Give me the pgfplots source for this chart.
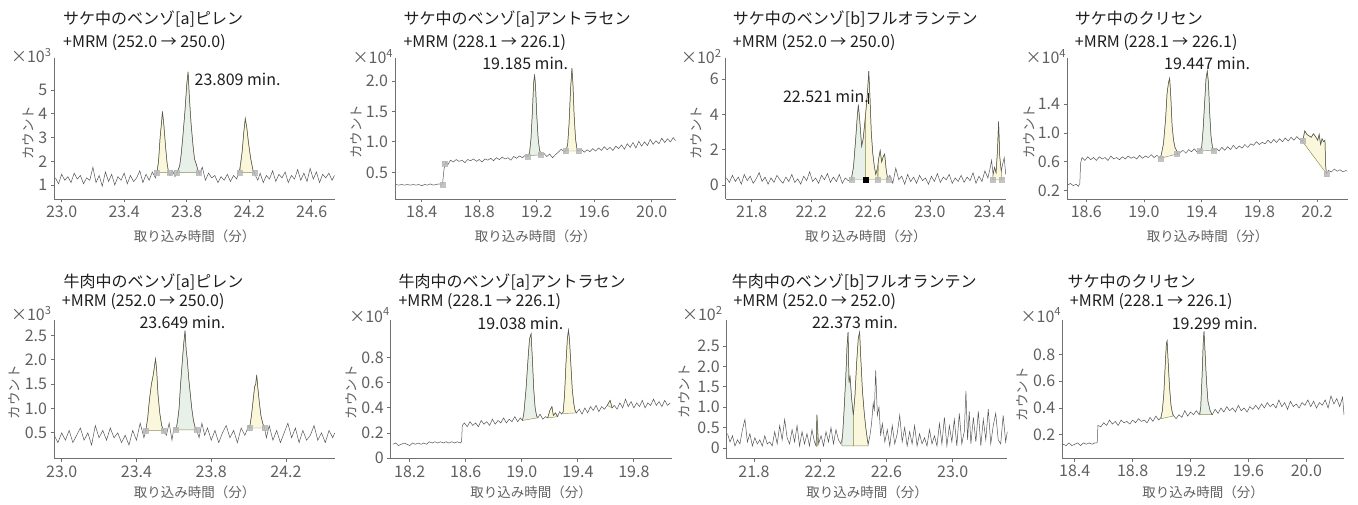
\documentclass[border=0pt]{standalone}
\usepackage{fontspec}
\setmainfont{Noto Sans CJK JP}
\usepackage{pgfplots}
\pgfplotsset{compat=1.18}
\definecolor{trace}{HTML}{555555}
\definecolor{pkY}{HTML}{FAF7DC}
\definecolor{pkG}{HTML}{E8F0EA}
\definecolor{pkLine}{HTML}{8E8E4C}
\definecolor{mk}{HTML}{B8B8B8}
\definecolor{axgray}{HTML}{707070}
\definecolor{labgray}{HTML}{606060}
\definecolor{ttl}{HTML}{1E1E1E}
\pgfplotsset{
 chrom/.style={
  scale only axis, anchor=south west,
  axis lines*=left,
  every outer x axis line/.append style={-}, every outer y axis line/.append style={-},
  every inner x axis line/.append style={-}, every inner y axis line/.append style={-},
  axis line style={-, draw=axgray, line width=0.9pt},
  tick align=outside, major tick length=3.5pt,
  tick style={draw=axgray, line width=0.8pt},
  tick label style={font=\fontsize{16}{16}\selectfont, text=labgray},
  /pgf/number format/assume math mode=true,
  clip mode=individual, scaled ticks=false, minor tick num=0,
 },
 trace/.style={color=trace, line width=0.5pt, mark=none},
 pkY/.style={fill=pkY, draw=pkLine, line width=0.45pt, mark=none},
 pkG/.style={fill=pkG, draw=pkLine, line width=0.45pt, mark=none},
 mks/.style={only marks, color=mk, mark=square*, mark size=2.5pt, mark options={fill=mk, draw=mk, fill opacity=0.85, draw opacity=0.85}},
}
\tikzset{
 pklab/.style={font=\fontsize{16}{16}\selectfont, text=ttl, inner sep=0pt},
 ttl/.style={font=\fontsize{16}{16}\selectfont, text=ttl, anchor=base west, inner sep=0pt},
 xl/.style={font=\fontsize{13.5}{14}\selectfont, text=labgray, inner sep=0pt},
 yl/.style={font=\fontsize{13.5}{14}\selectfont, text=labgray, inner sep=0pt, rotate=90},
 pw/.style={font=\fontsize{16}{16}\selectfont, text=labgray, anchor=base east, inner sep=0pt},
}
\begin{document}
\begin{tikzpicture}
\useasboundingbox (0,0) rectangle (1358pt,504pt);

% ---------------- Panel 1 ----------------
\begin{axis}[chrom, at={(54.3pt,305pt)}, width=280.7pt, height=141pt,
 xmin=22.953, xmax=24.749, ymin=0.41, ymax=6.35,
 xtick={23.0,23.4,23.8,24.2,24.6}, xticklabels={23.0,23.4,23.8,24.2,24.6},
 ytick={1,2,3,4,5}, yticklabels={1,2,3,4,5}]
\addplot[pkY] coordinates {(23.61,1.52) (23.62,2.00) (23.63,3.00) (23.64,3.70) (23.645,4.10) (23.655,3.45) (23.665,2.60) (23.675,1.90) (23.685,1.52) (23.61,1.52)};
\addplot[pkG] coordinates {(23.735,1.52) (23.74,1.55) (23.755,1.80) (23.765,2.30) (23.775,3.00) (23.79,4.20) (23.80,5.20) (23.809,5.77) (23.818,4.60) (23.828,3.60) (23.84,2.70) (23.85,2.10) (23.865,1.80) (23.875,1.52) (23.735,1.52)};
\addplot[pkY] coordinates {(24.14,1.52) (24.155,2.40) (24.165,3.20) (24.175,3.80) (24.185,3.40) (24.195,2.80) (24.21,2.10) (24.225,1.60) (24.235,1.52) (24.14,1.52)};
\addplot[trace] coordinates {
(22.96,1.30) (22.98,1.05) (23.00,1.45) (23.02,1.20) (23.04,1.35) (23.06,1.10) (23.08,1.50) (23.10,1.25) (23.12,1.40) (23.14,1.05)
(23.16,1.30) (23.18,1.20) (23.20,1.75) (23.22,1.10) (23.24,1.40) (23.26,0.95) (23.28,1.55) (23.30,1.15) (23.32,1.45) (23.34,1.00)
(23.36,1.35) (23.38,1.20) (23.40,1.50) (23.42,1.05) (23.44,1.40) (23.46,1.15) (23.48,1.30) (23.50,1.60) (23.52,1.10) (23.54,1.45)
(23.56,1.20) (23.58,1.55) (23.60,1.30) (23.61,1.55) (23.62,2.00) (23.63,3.00) (23.64,3.70) (23.645,4.10) (23.655,3.45) (23.665,2.60)
(23.675,1.90) (23.685,1.50) (23.695,1.40) (23.71,1.60) (23.725,1.35) (23.74,1.55) (23.755,1.80) (23.765,2.30) (23.775,3.00) (23.79,4.20)
(23.80,5.20) (23.809,5.77) (23.818,4.60) (23.828,3.60) (23.84,2.70) (23.85,2.10) (23.865,1.80) (23.88,1.45) (23.90,1.75) (23.92,1.20)
(23.94,1.50) (23.96,1.30) (23.98,1.40) (24.00,1.10) (24.02,1.35) (24.04,1.20) (24.06,1.45) (24.08,1.15) (24.10,1.40) (24.12,1.25)
(24.14,1.70) (24.155,2.40) (24.165,3.20) (24.175,3.80) (24.185,3.40) (24.195,2.80) (24.21,2.10) (24.225,1.60) (24.24,1.40) (24.255,1.20)
(24.27,1.50) (24.29,1.10) (24.31,1.40) (24.33,1.25) (24.35,1.60) (24.37,1.15) (24.39,1.45) (24.41,1.30) (24.43,1.55) (24.45,1.10)
(24.47,1.40) (24.49,1.25) (24.51,1.65) (24.53,1.20) (24.55,1.50) (24.57,1.15) (24.59,1.70) (24.61,1.25) (24.63,1.55) (24.65,1.10)
(24.67,1.45) (24.69,1.30) (24.71,1.50) (24.73,1.20) (24.745,1.40)};
\addplot[mks] coordinates {(23.61,1.52) (23.69,1.52) (23.735,1.52) (23.875,1.52) (24.14,1.52) (24.235,1.52)};
\node[pklab, anchor=west] at (axis cs:23.85,5.45) {23.809 min.};
\end{axis}

% ---------------- Panel 2 ----------------
\begin{axis}[chrom, at={(395pt,305pt)}, width=281pt, height=141pt,
 xmin=18.214, xmax=20.169, ymin=0.062, ymax=2.378,
 xtick={18.4,18.8,19.2,19.6,20.0}, xticklabels={18.4,18.8,19.2,19.6,20.0},
 ytick={0.5,1.0,1.5,2.0}, yticklabels={0.5,1.0,1.5,2.0}]
\addplot[pkG] coordinates {(19.14,0.77) (19.15,0.82) (19.16,1.05) (19.17,1.50) (19.178,1.95) (19.185,2.11) (19.192,1.90) (19.20,1.45) (19.21,1.05) (19.22,0.86) (19.23,0.79) (19.14,0.77)};
\addplot[pkY] coordinates {(19.40,0.85) (19.415,0.95) (19.425,1.30) (19.435,1.85) (19.445,2.21) (19.452,1.95) (19.46,1.45) (19.47,1.05) (19.48,0.88) (19.49,0.85) (19.40,0.85)};
\addplot[trace] coordinates {
(18.22,0.30) (18.24,0.29) (18.26,0.30) (18.28,0.29) (18.30,0.30) (18.32,0.29) (18.34,0.30) (18.36,0.29) (18.38,0.30) (18.40,0.28)
(18.42,0.30) (18.44,0.29) (18.46,0.31) (18.48,0.29) (18.50,0.30) (18.52,0.31) (18.54,0.30) (18.545,0.32) (18.555,0.55) (18.565,0.66)
(18.58,0.62) (18.60,0.70) (18.62,0.67) (18.64,0.71) (18.66,0.68) (18.68,0.70) (18.70,0.66) (18.72,0.71) (18.74,0.69) (18.76,0.72)
(18.78,0.68) (18.80,0.71) (18.82,0.67) (18.84,0.72) (18.86,0.70) (18.88,0.73) (18.90,0.69) (18.92,0.74) (18.94,0.71) (18.96,0.75)
(18.98,0.72) (19.00,0.74) (19.02,0.70) (19.04,0.76) (19.06,0.73) (19.08,0.77) (19.10,0.74) (19.12,0.78) (19.135,0.76) (19.15,0.82)
(19.16,1.05) (19.17,1.50) (19.178,1.95) (19.185,2.11) (19.192,1.90) (19.20,1.45) (19.21,1.05) (19.22,0.86) (19.235,0.79) (19.25,0.81)
(19.27,0.76) (19.29,0.80) (19.31,0.74) (19.33,0.79) (19.35,0.83) (19.37,0.88) (19.39,0.84) (19.405,0.86) (19.415,0.95) (19.425,1.30)
(19.435,1.85) (19.445,2.21) (19.452,1.95) (19.46,1.45) (19.47,1.05) (19.48,0.88) (19.495,0.85) (19.51,0.88) (19.53,0.83) (19.55,0.87)
(19.57,0.84) (19.59,0.89) (19.61,0.85) (19.63,0.90) (19.65,0.86) (19.67,0.92) (19.69,0.87) (19.71,0.91) (19.73,0.86) (19.75,0.93)
(19.77,0.89) (19.79,0.95) (19.81,0.88) (19.83,0.97) (19.85,0.91) (19.87,0.99) (19.89,0.90) (19.91,1.01) (19.93,0.93) (19.95,1.00)
(19.97,0.94) (19.99,1.04) (20.01,0.96) (20.03,1.02) (20.05,0.97) (20.07,1.06) (20.09,0.99) (20.11,1.05) (20.13,1.00) (20.15,1.07) (20.165,1.02)};
\addplot[mks] coordinates {(18.545,0.30) (18.56,0.65) (19.135,0.76) (19.225,0.79) (19.40,0.85) (19.49,0.85)};
\node[pklab] at (axis cs:19.12,2.29) {19.185 min.};
\end{axis}

% ---------------- Panel 3 ----------------
\begin{axis}[chrom, at={(725.7pt,305pt)}, width=280.3pt, height=141pt,
 xmin=21.625, xmax=23.512, ymin=-0.79, ymax=7.19,
 xtick={21.8,22.2,22.6,23.0,23.4}, xticklabels={21.8,22.2,22.6,23.0,23.4},
 ytick={0,2,4,6}, yticklabels={0,2,4,6}]
\addplot[pkG] coordinates {(22.47,0.30) (22.485,1.00) (22.50,2.60) (22.51,3.80) (22.518,4.55) (22.528,3.60) (22.54,2.20) (22.55,2.60) (22.56,3.40) (22.565,3.85) (22.565,0.30) (22.47,0.30)};
\addplot[pkY] coordinates {(22.565,0.30) (22.565,3.85) (22.57,4.30) (22.58,5.30) (22.588,6.45) (22.596,5.00) (22.605,3.00) (22.615,1.80) (22.625,1.10) (22.635,0.60) (22.645,0.90) (22.65,0.30) (22.565,0.30)};
\addplot[pkY] coordinates {(22.65,0.30) (22.655,1.50) (22.665,1.95) (22.675,1.30) (22.685,1.60) (22.695,1.75) (22.705,0.90) (22.715,0.35) (22.72,0.30) (22.65,0.30)};
\addplot[pkY] coordinates {(23.42,0.30) (23.425,0.60) (23.435,1.00) (23.445,0.70) (23.455,2.00) (23.462,3.60) (23.47,1.60) (23.48,0.80) (23.485,0.30) (23.42,0.30)};
\addplot[trace] coordinates {
(21.63,0.40) (21.65,0.15) (21.67,0.55) (21.69,0.20) (21.71,0.45) (21.73,0.05) (21.75,0.60) (21.77,0.25) (21.79,0.50) (21.81,0.10)
(21.83,0.35) (21.85,0.70) (21.87,0.20) (21.89,0.45) (21.91,0.05) (21.93,0.40) (21.95,0.15) (21.97,0.55) (21.99,0.30) (22.01,0.10)
(22.03,0.45) (22.05,0.20) (22.07,0.60) (22.09,0.15) (22.11,0.35) (22.13,0.05) (22.15,0.50) (22.17,0.25) (22.19,0.75) (22.21,0.20)
(22.23,0.40) (22.25,0.10) (22.27,0.55) (22.29,0.30) (22.31,0.65) (22.33,0.15) (22.35,0.45) (22.37,0.20) (22.39,0.60) (22.41,0.10)
(22.43,0.40) (22.45,0.25) (22.47,0.30) (22.485,1.00) (22.50,2.60) (22.51,3.80) (22.518,4.55) (22.528,3.60) (22.54,2.20) (22.55,2.60)
(22.56,3.40) (22.57,4.30) (22.58,5.30) (22.588,6.45) (22.596,5.00) (22.605,3.00) (22.615,1.80) (22.625,1.10) (22.635,0.60) (22.645,0.90)
(22.655,1.50) (22.665,1.95) (22.675,1.30) (22.685,1.60) (22.695,1.75) (22.705,0.90) (22.715,0.35) (22.73,0.55) (22.75,0.10) (22.77,0.95)
(22.79,0.30) (22.81,0.50) (22.83,0.05) (22.85,0.60) (22.87,0.20) (22.89,0.45) (22.91,0.10) (22.93,0.55) (22.95,0.25) (22.97,0.40)
(22.99,0.05) (23.01,0.50) (23.03,0.20) (23.05,0.65) (23.07,0.15) (23.09,0.45) (23.11,0.30) (23.13,0.60) (23.15,0.10) (23.17,0.40)
(23.19,0.20) (23.21,0.55) (23.23,0.15) (23.25,0.45) (23.27,0.25) (23.29,0.70) (23.31,0.10) (23.33,0.50) (23.35,0.20) (23.37,0.80)
(23.39,0.40) (23.405,0.95) (23.415,1.40) (23.425,0.60) (23.435,1.00) (23.445,0.70) (23.455,2.00) (23.462,3.60) (23.47,1.60) (23.48,0.80)
(23.49,1.20) (23.50,1.55) (23.51,0.60)};
\addplot[mks] coordinates {(22.47,0.30) (22.65,0.30) (22.72,0.30) (23.42,0.30) (23.485,0.30)};
\addplot[only marks, color=black, mark=square*, mark size=2.4pt, mark options={fill=black, draw=black}] coordinates {(22.565,0.30)};
\draw[color=ttl, line width=0.6pt] (axis cs:22.588,4.6) -- (axis cs:22.588,5.2);
\node[pklab] at (axis cs:22.30,5.0) {22.521 min.};
\end{axis}

% ---------------- Panel 4 ----------------
\begin{axis}[chrom, at={(1067pt,305pt)}, width=281pt, height=141pt,
 xmin=18.466, xmax=20.415, ymin=0.085, ymax=2.04,
 xtick={18.6,19.0,19.4,19.8,20.2}, xticklabels={18.6,19.0,19.4,19.8,20.2},
 ytick={0.2,0.6,1.0,1.4}, yticklabels={0.2,0.6,1.0,1.4}]
\addplot[pkY] coordinates {(19.115,0.65) (19.12,0.70) (19.135,0.85) (19.15,1.20) (19.16,1.55) (19.17,1.70) (19.178,1.76) (19.186,1.50) (19.195,1.10) (19.205,0.90) (19.215,0.80) (19.225,0.76) (19.23,0.71) (19.115,0.65)};
\addplot[pkG] coordinates {(19.385,0.75) (19.40,0.80) (19.41,1.05) (19.42,1.40) (19.43,1.75) (19.439,1.86) (19.447,1.70) (19.455,1.30) (19.465,0.95) (19.475,0.80) (19.48,0.76) (19.385,0.75)};
\addplot[pkY] coordinates {(20.10,0.88) (20.115,1.03) (20.13,0.98) (20.145,0.96) (20.16,0.94) (20.175,0.99) (20.19,0.95) (20.205,0.90) (20.215,0.98) (20.225,0.84) (20.235,0.92) (20.245,0.88) (20.255,0.90) (20.26,0.55) (20.265,0.44) (20.10,0.88)};
\addplot[trace] coordinates {
(18.47,0.28) (18.49,0.30) (18.51,0.27) (18.53,0.29) (18.545,0.26) (18.555,0.30) (18.56,0.58) (18.57,0.66) (18.59,0.62) (18.61,0.67)
(18.63,0.63) (18.65,0.66) (18.67,0.62) (18.69,0.67) (18.71,0.64) (18.73,0.66) (18.75,0.62) (18.77,0.68) (18.79,0.64) (18.81,0.66)
(18.83,0.63) (18.85,0.67) (18.87,0.64) (18.89,0.68) (18.91,0.65) (18.93,0.67) (18.95,0.64) (18.97,0.69) (18.99,0.65) (19.01,0.68)
(19.03,0.66) (19.05,0.70) (19.07,0.66) (19.09,0.69) (19.11,0.65) (19.12,0.70) (19.135,0.85) (19.15,1.20) (19.16,1.55) (19.17,1.70)
(19.178,1.76) (19.186,1.50) (19.195,1.10) (19.205,0.90) (19.215,0.80) (19.225,0.76) (19.235,0.70) (19.25,0.73) (19.27,0.76) (19.29,0.72)
(19.31,0.77) (19.33,0.74) (19.35,0.78) (19.37,0.73) (19.385,0.75) (19.40,0.80) (19.41,1.05) (19.42,1.40) (19.43,1.75) (19.439,1.86)
(19.447,1.70) (19.455,1.30) (19.465,0.95) (19.475,0.80) (19.485,0.76) (19.50,0.79) (19.52,0.75) (19.54,0.80) (19.56,0.76) (19.58,0.81)
(19.60,0.77) (19.62,0.83) (19.64,0.78) (19.66,0.82) (19.68,0.79) (19.70,0.84) (19.72,0.80) (19.74,0.85) (19.76,0.83) (19.78,0.88)
(19.80,0.84) (19.82,0.87) (19.84,0.85) (19.86,0.90) (19.88,0.86) (19.90,0.91) (19.92,0.87) (19.94,0.92) (19.96,0.88) (19.98,0.93)
(20.00,0.89) (20.02,0.94) (20.04,0.90) (20.06,0.95) (20.08,0.91) (20.10,0.88) (20.115,1.03) (20.13,0.98) (20.145,0.96) (20.16,0.94)
(20.175,0.99) (20.19,0.95) (20.205,0.90) (20.215,0.98) (20.225,0.84) (20.235,0.92) (20.245,0.88) (20.255,0.90) (20.26,0.55) (20.265,0.44)
(20.28,0.48) (20.30,0.46) (20.32,0.50) (20.34,0.47) (20.36,0.49) (20.38,0.46) (20.40,0.48) (20.41,0.47)};
\addplot[mks] coordinates {(19.115,0.64) (19.23,0.71) (19.385,0.75) (19.48,0.76) (20.10,0.90) (20.265,0.43)};
\node[pklab] at (axis cs:19.438,1.97) {19.447 min.};
\end{axis}

% ---------------- Panel 5 ----------------
\begin{axis}[chrom, at={(54pt,45.3pt)}, width=281pt, height=138.4pt,
 xmin=22.959, xmax=24.462, ymin=-0.03, ymax=2.81,
 xtick={23.0,23.4,23.8,24.2}, xticklabels={23.0,23.4,23.8,24.2},
 ytick={0.5,1.0,1.5,2.0,2.5}, yticklabels={0.5,1.0,1.5,2.0,2.5}]
\addplot[pkY] coordinates {(23.45,0.55) (23.46,0.80) (23.47,1.20) (23.48,1.50) (23.488,1.65) (23.496,1.85) (23.502,2.02) (23.508,1.80) (23.515,1.30) (23.525,0.90) (23.535,0.65) (23.545,0.55) (23.45,0.55)};
\addplot[pkG] coordinates {(23.612,0.56) (23.62,0.75) (23.628,1.00) (23.636,1.50) (23.644,1.90) (23.652,2.30) (23.66,2.60) (23.666,2.20) (23.672,2.00) (23.68,1.60) (23.688,1.30) (23.696,1.00) (23.705,0.75) (23.715,0.60) (23.722,0.56) (23.612,0.56)};
\addplot[pkY] coordinates {(24.005,0.60) (24.015,0.85) (24.025,1.20) (24.032,1.45) (24.038,1.50) (24.043,1.69) (24.05,1.40) (24.058,1.10) (24.066,0.85) (24.075,0.70) (24.085,0.60) (24.005,0.60)};
\addplot[trace] coordinates {
(22.96,0.45) (22.98,0.30) (23.00,0.50) (23.02,0.35) (23.04,0.55) (23.06,0.30) (23.08,0.45) (23.10,0.60) (23.12,0.35) (23.14,0.50)
(23.16,0.25) (23.18,0.65) (23.20,0.40) (23.22,0.55) (23.24,0.35) (23.26,0.60) (23.28,0.40) (23.30,0.50) (23.32,0.30) (23.34,0.45)
(23.36,0.25) (23.38,0.55) (23.40,0.35) (23.42,0.70) (23.44,0.40) (23.45,0.55) (23.46,0.80) (23.47,1.20) (23.48,1.50) (23.488,1.65)
(23.496,1.85) (23.502,2.02) (23.508,1.80) (23.515,1.30) (23.525,0.90) (23.535,0.65) (23.545,0.55) (23.56,0.45) (23.575,0.70) (23.59,0.35)
(23.60,0.60) (23.612,0.56) (23.62,0.75) (23.628,1.00) (23.636,1.50) (23.644,1.90) (23.652,2.30) (23.66,2.60) (23.666,2.20) (23.672,2.00)
(23.68,1.60) (23.688,1.30) (23.696,1.00) (23.705,0.75) (23.715,0.60) (23.722,0.56) (23.735,0.40) (23.75,0.70) (23.765,0.45) (23.78,0.60)
(23.80,0.35) (23.82,0.55) (23.84,0.30) (23.86,0.50) (23.88,0.65) (23.90,0.40) (23.92,0.55) (23.94,0.30) (23.96,0.60) (23.98,0.45)
(24.00,0.65) (24.005,0.60) (24.015,0.85) (24.025,1.20) (24.032,1.45) (24.038,1.50) (24.043,1.69) (24.05,1.40) (24.058,1.10) (24.066,0.85)
(24.075,0.70) (24.085,0.60) (24.095,0.40) (24.11,0.65) (24.13,0.35) (24.15,0.55) (24.17,0.30) (24.19,0.50) (24.21,0.70) (24.23,0.40)
(24.25,0.60) (24.27,0.30) (24.29,0.55) (24.31,0.35) (24.33,0.45) (24.35,0.65) (24.37,0.35) (24.39,0.50) (24.41,0.30) (24.43,0.55)
(24.45,0.40) (24.46,0.50)};
\addplot[mks] coordinates {(23.45,0.55) (23.545,0.55) (23.612,0.56) (23.722,0.56) (24.005,0.60) (24.085,0.60)};
\node[pklab] at (axis cs:23.646,2.77) {23.649 min.};
\end{axis}

% ---------------- Panel 6 ----------------
\begin{axis}[chrom, at={(390.7pt,45.3pt)}, width=281pt, height=138.4pt,
 xmin=18.064, xmax=20.07, ymin=-0.005, ymax=1.098,
 xtick={18.2,18.6,19.0,19.4,19.8}, xticklabels={18.2,18.6,19.0,19.4,19.8},
 ytick={0,0.2,0.4,0.6,0.8}, yticklabels={0,0.2,0.4,0.6,0.8}]
\addplot[pkG] coordinates {(19.005,0.30) (19.015,0.36) (19.03,0.55) (19.045,0.80) (19.055,0.95) (19.066,0.99) (19.075,0.80) (19.085,0.55) (19.095,0.40) (19.105,0.34) (19.11,0.32) (19.005,0.30)};
\addplot[pkY] coordinates {(19.185,0.32) (19.20,0.38) (19.215,0.41) (19.225,0.34) (19.24,0.36) (19.255,0.33) (19.185,0.32)};
\addplot[pkY] coordinates {(19.295,0.355) (19.305,0.50) (19.315,0.75) (19.325,0.95) (19.333,1.02) (19.34,0.95) (19.35,0.75) (19.36,0.55) (19.37,0.44) (19.38,0.38) (19.39,0.36) (19.295,0.355)};
\addplot[pkY] coordinates {(19.61,0.42) (19.63,0.46) (19.645,0.40) (19.61,0.42)};
\addplot[trace] coordinates {
(18.08,0.11) (18.10,0.12) (18.12,0.10) (18.14,0.11) (18.16,0.12) (18.18,0.11) (18.20,0.10) (18.22,0.12) (18.24,0.11) (18.26,0.12)
(18.28,0.11) (18.30,0.12) (18.32,0.11) (18.34,0.13) (18.36,0.12) (18.38,0.13) (18.40,0.12) (18.42,0.13) (18.44,0.12) (18.46,0.13)
(18.48,0.12) (18.50,0.13) (18.52,0.12) (18.54,0.13) (18.56,0.12) (18.57,0.13) (18.575,0.26) (18.59,0.28) (18.61,0.25) (18.63,0.29)
(18.65,0.26) (18.67,0.28) (18.69,0.25) (18.71,0.30) (18.73,0.27) (18.75,0.29) (18.77,0.26) (18.79,0.31) (18.81,0.27) (18.83,0.30)
(18.85,0.28) (18.87,0.32) (18.89,0.28) (18.91,0.31) (18.93,0.29) (18.95,0.33) (18.97,0.29) (18.99,0.32) (19.005,0.30) (19.015,0.36)
(19.03,0.55) (19.045,0.80) (19.055,0.95) (19.066,0.99) (19.075,0.80) (19.085,0.55) (19.095,0.40) (19.105,0.34) (19.115,0.32) (19.13,0.35)
(19.15,0.31) (19.17,0.33) (19.185,0.32) (19.20,0.38) (19.215,0.41) (19.225,0.34) (19.24,0.36) (19.255,0.33) (19.27,0.37) (19.285,0.35)
(19.295,0.37) (19.305,0.50) (19.315,0.75) (19.325,0.95) (19.333,1.02) (19.34,0.95) (19.35,0.75) (19.36,0.55) (19.37,0.44) (19.38,0.38)
(19.39,0.36) (19.41,0.39) (19.43,0.35) (19.45,0.40) (19.47,0.36) (19.49,0.41) (19.51,0.38) (19.53,0.42) (19.55,0.37) (19.57,0.41)
(19.59,0.39) (19.61,0.42) (19.63,0.46) (19.645,0.40) (19.66,0.42) (19.68,0.39) (19.70,0.44) (19.72,0.40) (19.74,0.47) (19.76,0.41)
(19.78,0.45) (19.80,0.40) (19.82,0.44) (19.84,0.41) (19.86,0.46) (19.88,0.40) (19.90,0.44) (19.92,0.42) (19.94,0.47) (19.96,0.42)
(19.98,0.45) (20.00,0.41) (20.02,0.46) (20.04,0.42) (20.06,0.44)};
\node[pklab] at (axis cs:18.99,1.07) {19.038 min.};
\end{axis}

% ---------------- Panel 7 ----------------
\begin{axis}[chrom, at={(726.7pt,45.3pt)}, width=280.6pt, height=138.4pt,
 xmin=21.635, xmax=23.33, ymin=-0.262, ymax=3.13,
 xtick={21.8,22.2,22.6,23.0}, xticklabels={21.8,22.2,22.6,23.0},
 ytick={0,0.5,1.0,1.5,2.0,2.5}, yticklabels={0,0.5,1.0,1.5,2.0,2.5}]
\addplot[pkG] coordinates {(22.33,0.05) (22.335,0.30) (22.345,1.00) (22.355,1.80) (22.362,2.50) (22.368,2.84) (22.374,1.60) (22.38,1.75) (22.39,1.20) (22.40,0.80) (22.40,0.05) (22.33,0.05)};
\addplot[pkY] coordinates {(22.40,0.05) (22.40,0.80) (22.41,1.30) (22.42,2.10) (22.43,2.70) (22.438,2.84) (22.445,2.20) (22.455,1.40) (22.465,0.90) (22.475,0.50) (22.485,0.20) (22.49,0.05) (22.40,0.05)};
\addplot[pkY] coordinates {(22.175,0.05) (22.18,0.82) (22.185,0.05) (22.175,0.05)};
\addplot[trace] coordinates {
(21.64,0.35) (21.655,0.15) (21.67,0.30) (21.685,0.05) (21.70,0.20) (21.715,0.10) (21.73,0.45) (21.745,0.70) (21.76,0.15) (21.775,0.35)
(21.79,0.05) (21.805,0.25) (21.82,0.10) (21.835,0.20) (21.85,0.05) (21.865,0.30) (21.88,0.10) (21.895,0.15) (21.91,0.05) (21.925,0.40)
(21.94,0.10) (21.955,0.55) (21.97,0.20) (21.985,0.70) (22.00,0.25) (22.015,0.10) (22.03,0.45) (22.045,0.15) (22.06,0.55) (22.075,0.05)
(22.09,0.40) (22.105,0.10) (22.12,0.35) (22.135,0.05) (22.15,0.45) (22.165,0.15) (22.175,0.05) (22.18,0.82) (22.19,0.10) (22.205,0.30)
(22.22,0.05) (22.235,0.40) (22.25,0.15) (22.265,0.50) (22.28,0.10) (22.295,0.45) (22.31,0.20) (22.325,0.10) (22.335,0.30) (22.345,1.00)
(22.355,1.80) (22.362,2.50) (22.368,2.84) (22.374,1.60) (22.38,1.75) (22.39,1.20) (22.40,0.80) (22.41,1.30) (22.42,2.10) (22.43,2.70)
(22.438,2.84) (22.445,2.20) (22.455,1.40) (22.465,0.90) (22.475,0.50) (22.485,0.20) (22.49,0.10) (22.50,0.30) (22.51,0.60) (22.52,1.10)
(22.527,0.90) (22.535,1.90) (22.545,0.80) (22.555,1.00) (22.565,0.30) (22.575,0.60) (22.59,0.15) (22.605,0.45) (22.62,0.05) (22.635,0.55)
(22.65,0.10) (22.665,0.35) (22.68,0.80) (22.695,0.15) (22.71,0.50) (22.725,0.05) (22.74,0.40) (22.755,0.10) (22.77,0.55) (22.785,0.05)
(22.80,0.35) (22.815,0.10) (22.83,0.25) (22.845,0.05) (22.86,0.45) (22.875,0.10) (22.89,0.30) (22.905,0.05) (22.92,0.60) (22.935,0.10)
(22.95,0.75) (22.965,0.05) (22.98,0.55) (22.995,0.15) (23.01,0.70) (23.025,0.05) (23.04,0.85) (23.055,0.10) (23.07,0.40) (23.08,1.40)
(23.09,0.20) (23.10,0.90) (23.11,0.10) (23.125,0.75) (23.14,0.15) (23.155,0.90) (23.17,0.05) (23.185,0.70) (23.20,0.20) (23.215,0.95)
(23.23,0.10) (23.245,0.55) (23.26,0.85) (23.275,0.20) (23.29,0.10) (23.305,0.80) (23.32,0.15) (23.33,0.40)};
\node[pklab] at (axis cs:22.41,3.09) {22.373 min.};
\end{axis}

% ---------------- Panel 8 ----------------
\begin{axis}[chrom, at={(1062.3pt,45.8pt)}, width=281.7pt, height=138pt,
 xmin=18.314, xmax=20.26, ymin=0.026, ymax=1.054,
 xtick={18.4,18.8,19.2,19.6,20.0}, xticklabels={18.4,18.8,19.2,19.6,20.0},
 ytick={0.2,0.4,0.6,0.8}, yticklabels={0.2,0.4,0.6,0.8}]
\addplot[pkY] coordinates {(18.995,0.32) (19.005,0.38) (19.015,0.50) (19.025,0.72) (19.033,0.88) (19.038,0.90) (19.045,0.75) (19.055,0.55) (19.065,0.42) (19.075,0.36) (19.08,0.34) (18.995,0.32)};
\addplot[pkG] coordinates {(19.265,0.35) (19.27,0.40) (19.28,0.65) (19.288,0.90) (19.293,0.97) (19.30,0.82) (19.31,0.60) (19.32,0.45) (19.335,0.38) (19.348,0.35) (19.265,0.35)};
\addplot[trace] coordinates {
(18.32,0.13) (18.34,0.12) (18.36,0.14) (18.38,0.12) (18.40,0.13) (18.42,0.14) (18.44,0.12) (18.46,0.14) (18.48,0.13) (18.50,0.14)
(18.52,0.13) (18.54,0.14) (18.555,0.14) (18.56,0.27) (18.58,0.26) (18.60,0.29) (18.62,0.27) (18.64,0.31) (18.66,0.28) (18.68,0.30)
(18.70,0.27) (18.72,0.31) (18.74,0.29) (18.76,0.30) (18.78,0.28) (18.80,0.31) (18.82,0.29) (18.84,0.32) (18.86,0.30) (18.88,0.31)
(18.90,0.29) (18.92,0.33) (18.94,0.30) (18.96,0.34) (18.98,0.31) (18.995,0.33) (19.005,0.38) (19.015,0.50) (19.025,0.72) (19.033,0.88)
(19.038,0.90) (19.045,0.75) (19.055,0.55) (19.065,0.42) (19.075,0.36) (19.085,0.34) (19.10,0.32) (19.12,0.35) (19.14,0.33) (19.16,0.38)
(19.18,0.34) (19.20,0.37) (19.22,0.35) (19.24,0.38) (19.26,0.35) (19.27,0.40) (19.28,0.65) (19.288,0.90) (19.293,0.97) (19.30,0.82)
(19.31,0.60) (19.32,0.45) (19.335,0.38) (19.35,0.35) (19.37,0.39) (19.39,0.36) (19.41,0.40) (19.43,0.37) (19.45,0.41) (19.47,0.38)
(19.49,0.40) (19.51,0.37) (19.53,0.42) (19.55,0.38) (19.57,0.40) (19.59,0.37) (19.61,0.41) (19.63,0.39) (19.65,0.42) (19.67,0.39)
(19.69,0.43) (19.71,0.40) (19.73,0.44) (19.75,0.41) (19.77,0.43) (19.79,0.40) (19.81,0.46) (19.83,0.41) (19.85,0.44) (19.87,0.39)
(19.89,0.45) (19.91,0.41) (19.93,0.43) (19.95,0.40) (19.97,0.44) (19.99,0.42) (20.01,0.46) (20.03,0.41) (20.05,0.45) (20.07,0.40)
(20.09,0.44) (20.11,0.42) (20.13,0.46) (20.15,0.40) (20.17,0.49) (20.19,0.43) (20.21,0.47) (20.23,0.41) (20.25,0.48) (20.26,0.35)};
\node[pklab] at (axis cs:19.367,1.03) {19.299 min.};
\end{axis}

% ---------------- Titles and labels ----------------
\node[ttl] at (63pt,479pt) {サケ中のベンゾ[a]ピレン};
\node[ttl] at (63pt,456.7pt) {+MRM (252.0 → 250.0)};
\node[ttl] at (403.3pt,479pt) {サケ中のベンゾ[a]アントラセン};
\node[ttl] at (403.3pt,456.7pt) {+MRM (228.1 → 226.1)};
\node[ttl] at (732.7pt,479pt) {サケ中のベンゾ[b]フルオランテン};
\node[ttl] at (732.7pt,456.7pt) {+MRM (252.0 → 250.0)};
\node[ttl] at (1074.7pt,479pt) {サケ中のクリセン};
\node[ttl] at (1074.7pt,456.7pt) {+MRM (228.1 → 226.1)};

\node[ttl] at (63.3pt,216pt) {牛肉中のベンゾ[a]ピレン};
\node[ttl] at (61.7pt,197pt) {+MRM (252.0 → 250.0)};
\node[ttl] at (398.3pt,216pt) {牛肉中のベンゾ[a]アントラセン};
\node[ttl] at (398.3pt,197pt) {+MRM (228.1 → 226.1)};
\node[ttl] at (731.7pt,216pt) {牛肉中のベンゾ[b]フルオランテン};
\node[ttl] at (733.3pt,197pt) {+MRM (252.0 → 252.0)};
\node[ttl] at (1067.3pt,216pt) {サケ中のクリセン};
\node[ttl] at (1069.7pt,197pt) {+MRM (228.1 → 226.1)};

\node[pw] at (51.7pt,441.3pt) {×10\textsuperscript{3}};
\node[pw] at (393.3pt,440.7pt) {×10\textsuperscript{4}};
\node[pw] at (721.7pt,440.7pt) {×10\textsuperscript{2}};
\node[pw] at (1066.3pt,440.7pt) {×10\textsuperscript{4}};
\node[pw] at (51.7pt,183.7pt) {×10\textsuperscript{3}};
\node[pw] at (390pt,182pt) {×10\textsuperscript{4}};
\node[pw] at (722.7pt,183.7pt) {×10\textsuperscript{2}};
\node[pw] at (1061.3pt,182pt) {×10\textsuperscript{4}};

\node[xl] at (194.6pt,268pt) {取り込み時間（分）};
\node[xl] at (535.5pt,268pt) {取り込み時間（分）};
\node[xl] at (865.8pt,268pt) {取り込み時間（分）};
\node[xl] at (1207.5pt,268pt) {取り込み時間（分）};
\node[xl] at (194.5pt,12pt) {取り込み時間（分）};
\node[xl] at (531.2pt,12pt) {取り込み時間（分）};
\node[xl] at (867pt,12pt) {取り込み時間（分）};
\node[xl] at (1203.1pt,12pt) {取り込み時間（分）};

\node[yl] at (28pt,371pt) {カウント};
\node[yl] at (356.7pt,372pt) {カウント};
\node[yl] at (696.7pt,371pt) {カウント};
\node[yl] at (1029.7pt,372pt) {カウント};
\node[yl] at (14pt,112pt) {カウント};
\node[yl] at (351pt,112pt) {カウント};
\node[yl] at (684pt,113pt) {カウント};
\node[yl] at (1022pt,110pt) {カウント};
\end{tikzpicture}
\end{document}
